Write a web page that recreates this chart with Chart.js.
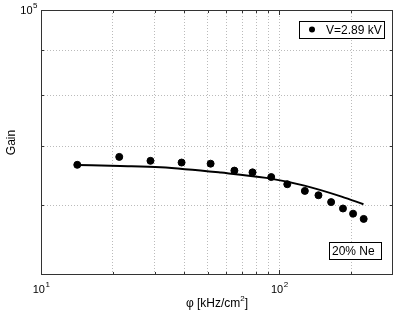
<!DOCTYPE html>
<html>
<head>
<meta charset="utf-8">
<script src="https://cdn.jsdelivr.net/npm/chart.js@4.4.0/dist/chart.umd.min.js"></script>
<style>
  html, body { margin: 0; padding: 0; background: #fff; }
  #wrap { width: 409px; height: 314px; }
</style>
</head>
<body>
<div id="wrap"><canvas id="gain-chart" width="409" height="314"></canvas></div>
<script>
// measured points (V = 2.89 kV, 20% Ne)
const fluxValues = [14.2, 21.3, 28.8, 38.9, 51.5, 64.8, 77.2, 92.5, 108, 128, 146, 165, 185, 204, 226];
const gainValues = [66700, 68100, 67400, 67100, 66900, 65700, 65400, 64600, 63400, 62300, 61600, 60500, 59500, 58700, 57900];

// fit curve
const fitFlux = [14.2, 21.5, 31.8, 56.9, 88.1, 127.5, 182.6, 225.5];
const fitGain = [66680, 66510, 66290, 65360, 64460, 63170, 61380, 60170];

// grid lines and decade labels
const xGridValues = [20, 30, 40, 50, 60, 70, 80, 90, 100, 200];
const yGridValues = [60000, 70000, 80000, 90000];
const xDecadeLabels = [{ value: 10, exp: '1' }, { value: 100, exp: '2' }];
const yDecadeLabels = [{ value: 100000, exp: '5' }];

const FONT = '"Liberation Sans", Arial, Helvetica, sans-serif';

function powerLabel(ctx, x, y, exp, align) {
    ctx.font = '11px ' + FONT;
    const baseW = ctx.measureText('10').width;
    ctx.font = '8px ' + FONT;
    const expW = ctx.measureText(exp).width;
    let left = align === 'right' ? x - baseW - expW : x - (baseW + expW) / 2;
    ctx.textAlign = 'left';
    ctx.textBaseline = 'alphabetic';
    ctx.font = '11px ' + FONT;
    ctx.fillText('10', left, y);
    ctx.font = '8px ' + FONT;
    ctx.fillText(exp, left + baseW + 0.5, y - 6);
}

const decorations = {
    id: 'decorations',
    afterDraw(chart) {
        const ctx = chart.ctx;
        const area = chart.chartArea;
        const xs = chart.scales.x;
        const ys = chart.scales.y;
        ctx.save();

        // frame
        ctx.strokeStyle = '#333';
        ctx.lineWidth = 1;
        ctx.strokeRect(area.left + 0.5, area.top + 0.5, area.right - area.left - 1, area.bottom - area.top - 1);

        // inward tick marks
        ctx.beginPath();
        xGridValues.concat([10]).forEach(v => {
            const px = Math.round(xs.getPixelForValue(v)) + 0.5;
            const len = (v === 10 || v === 100) ? 5 : 3;
            ctx.moveTo(px, area.bottom); ctx.lineTo(px, area.bottom - len);
            ctx.moveTo(px, area.top); ctx.lineTo(px, area.top + len);
        });
        yGridValues.forEach(v => {
            const py = Math.round(ys.getPixelForValue(v)) + 0.5;
            ctx.moveTo(area.left, py); ctx.lineTo(area.left + 3, py);
            ctx.moveTo(area.right, py); ctx.lineTo(area.right - 3, py);
        });
        ctx.stroke();

        // decade labels
        ctx.fillStyle = '#000';
        xDecadeLabels.forEach(l => powerLabel(ctx, xs.getPixelForValue(l.value), area.bottom + 18, l.exp, 'center'));
        yDecadeLabels.forEach(l => powerLabel(ctx, area.left - 4, ys.getPixelForValue(l.value) + 4, l.exp, 'right'));

        // axis titles
        ctx.font = '12px ' + FONT;
        ctx.textAlign = 'center';
        ctx.textBaseline = 'alphabetic';
        const cx = (area.left + area.right) / 2;
        ctx.font = '12px ' + FONT;
        const t1 = '\u03c6 [kHz/cm';
        const w1 = ctx.measureText(t1).width;
        ctx.font = '8px ' + FONT;
        const w2 = ctx.measureText('2').width;
        ctx.font = '12px ' + FONT;
        const w3 = ctx.measureText(']').width;
        let tx = cx - (w1 + w2 + w3) / 2;
        ctx.textAlign = 'left';
        ctx.fillText(t1, tx, 307);
        ctx.font = '8px ' + FONT;
        ctx.fillText('2', tx + w1, 301);
        ctx.font = '12px ' + FONT;
        ctx.fillText(']', tx + w1 + w2, 307);

        ctx.save();
        ctx.translate(15, (area.top + area.bottom) / 2);
        ctx.rotate(-Math.PI / 2);
        ctx.textAlign = 'center';
        ctx.fillText('Gain', 0, 0);
        ctx.restore();

        // legend box
        ctx.fillStyle = '#fff';
        ctx.strokeStyle = '#000';
        ctx.fillRect(299, 21, 85, 17);
        ctx.strokeRect(299.5, 21.5, 85, 17);
        ctx.fillStyle = '#000';
        ctx.beginPath();
        ctx.arc(312, 29.5, 3, 0, Math.PI * 2);
        ctx.fill();
        ctx.font = '12px ' + FONT;
        ctx.textAlign = 'left';
        ctx.fillText('V=2.89 kV', 326, 34);

        // gas mixture label
        ctx.fillStyle = '#fff';
        ctx.fillRect(329, 242, 52, 17);
        ctx.strokeStyle = '#000';
        ctx.strokeRect(329.5, 242.5, 52, 17);
        ctx.fillStyle = '#000';
        ctx.fillText('20% Ne', 332, 255);

        ctx.restore();
    }
};

const ctx = document.getElementById('gain-chart').getContext('2d');
new Chart(ctx, {
    type: 'scatter',
    data: {
        datasets: [
            {
                label: 'fit',
                data: fitFlux.map((x, i) => ({ x: x, y: fitGain[i] })),
                showLine: true,
                borderColor: '#000',
                borderWidth: 2,
                pointRadius: 0,
                cubicInterpolationMode: 'monotone',
                order: 2
            },
            {
                label: 'V=2.89 kV',
                data: fluxValues.map((x, i) => ({ x: x, y: gainValues[i] })),
                showLine: false,
                backgroundColor: '#000',
                borderColor: '#000',
                pointRadius: 3.5,
                order: 1
            }
        ]
    },
    options: {
        responsive: false,
        devicePixelRatio: 1,
        animation: false,
        layout: { padding: { left: 41, top: 10, right: 16, bottom: 39 } },
        plugins: { legend: { display: false }, tooltip: { enabled: false } },
        scales: {
            x: {
                type: 'logarithmic',
                min: 10,
                max: 300,
                bounds: 'data',
                afterBuildTicks: s => { s.ticks = xGridValues.map(v => ({ value: v })); },
                ticks: { display: false },
                grid: { color: '#bbb', drawTicks: false, lineWidth: 1 },
                border: { display: false, dash: [1, 2] }
            },
            y: {
                type: 'logarithmic',
                min: 50000,
                max: 100000,
                bounds: 'data',
                afterBuildTicks: s => { s.ticks = yGridValues.map(v => ({ value: v })); },
                ticks: { display: false },
                grid: { color: '#bbb', drawTicks: false, lineWidth: 1 },
                border: { display: false, dash: [1, 2] }
            }
        }
    },
    plugins: [decorations]
});
</script>
</body>
</html>
